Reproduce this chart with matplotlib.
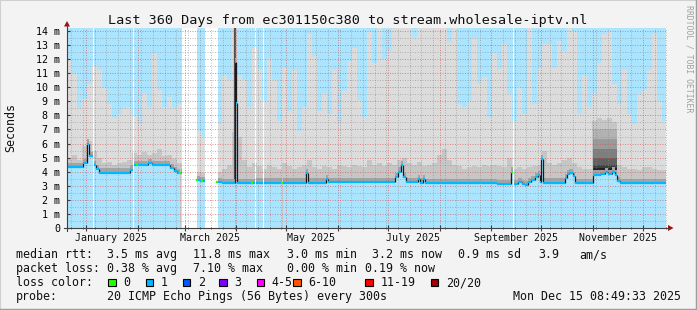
import datetime as dt
import numpy as np
import matplotlib
matplotlib.use('Agg')
import matplotlib.pyplot as plt
import matplotlib.dates as mdates
from matplotlib.ticker import MultipleLocator, FuncFormatter, NullFormatter
from matplotlib.patches import Rectangle, Polygon
from matplotlib.lines import Line2D

plt.rcParams['font.family'] = ['DejaVu Sans Mono']

# time range: 360 days up to the probe timestamp
end_time = dt.datetime(2025, 12, 15, 8, 49, 33)
start_time = end_time - dt.timedelta(days=360)
data_end_day = 359.4

# median rtt (ms), step segments starting at day offset, nan = no data
median_day = [0.0, 9.6, 12.0, 12.9, 15.6, 16.2, 17.4, 19.2, 37.8, 39.6,
              40.2, 48.6, 51.0, 61.8, 64.2, 66.0, 67.5, 68.1, 69.0, 78.0,
              79.8, 82.8, 90.6, 93.0, 100.5, 101.4, 102.0, 112.8, 113.4, 117.6,
              118.2, 128.7, 129.3, 143.4, 144.6, 155.4, 156.6, 196.8, 198.6, 200.4,
              201.6, 203.4, 210.6, 211.8, 213.6, 214.8, 235.8, 258.0, 266.4, 267.3,
              267.9, 270.6, 273.0, 274.8, 276.6, 278.4, 280.8, 282.6, 283.5, 284.1,
              285.3, 298.8, 300.0, 301.2, 303.6, 304.8, 315.3, 319.8, 322.8, 324.6,
              327.0, 328.8, 330.0, 331.8]
median_ms = [4.30, 4.60, 6.00, 5.10, np.nan, 4.48, 4.20, 3.93, 4.15, np.nan,
             4.45, 4.62, 4.45, 4.25, 4.05, 3.90, np.nan, 3.90, np.nan, 3.40,
             3.35, np.nan, 3.28, 3.18, 11.8, 8.9, 3.18, np.nan, 3.22, np.nan,
             3.22, np.nan, 3.22, 3.90, 3.22, 3.50, 3.25, 3.60, 4.00, 4.45,
             3.60, 3.25, 3.50, 3.22, 3.50, 3.20, 3.18, 3.10, 4.00, np.nan,
             3.12, 3.28, 3.12, 3.05, 3.25, 3.40, 3.60, 3.75, 3.30, 4.88,
             3.22, 3.55, 3.85, 3.90, 3.70, 3.18, 3.80, 3.85, 3.95, 3.85,
             4.00, 3.80, 3.35, 3.18]

# points with zero loss (green)
loss0_day = [41.8, 67.8, 77.8, 80.8, 89.8, 111.0, 128.8, 266.8]
loss0_ms = [4.45, 3.90, 3.40, 3.35, 3.28, 3.18, 3.22, 4.00]

# smoke, 3 day bins: top of light smoke and of medium smoke (ms)
smoke_top_ms = [12.0, 11.0, 8.5, 9.2, 10.2, 11.5, 11.2, 10.0, 8.8, 7.8,
                8.1, 8.5, 8.6, 8.0, 7.4, 9.6, 8.6, 12.4, 9.8, 8.6,
                9.3, 8.6, 8.8, 0, 0, 0, 6.9, 6.5, 0, 0,
                7.4, 10.9, 10.5, 14.2, 10.9, 10.5, 8.6, 12.8, 11.3, 9.0,
                12.1, 10.5, 7.6, 11.4, 8.3, 11.2, 6.9, 8.6, 13.8, 12.2,
                8.3, 9.6, 8.1, 11.2, 7.4, 9.7, 11.9, 12.8, 9.1, 7.9,
                14.0, 11.7, 14.2, 12.0, 12.6, 14.2, 14.2, 14.2, 14.2, 13.6,
                14.2, 14.2, 14.2, 14.2, 14.2, 14.2, 13.2, 14.2, 8.8, 8.6,
                9.0, 13.5, 10.2, 10.7, 7.9, 12.4, 11.3, 13.1, 9.5, 7.6,
                10.0, 8.1, 14.2, 8.8, 11.4, 13.1, 13.1, 11.4, 13.3, 12.6,
                14.2, 14.0, 8.1, 10.9, 8.6, 9.6, 11.7, 13.8, 14.0, 10.2,
                8.8, 11.2, 8.1, 7.4, 9.5, 9.8, 11.2, 13.8, 9.0, 7.6]
smoke_mid_ms = [5.0, 5.2, 4.8, 5.8, 6.2, 5.5, 5.0, 4.6, 4.7, 4.5,
                4.6, 4.7, 4.8, 5.3, 5.2, 5.4, 5.2, 5.3, 5.6, 5.1,
                5.2, 4.9, 4.6, 0, 0, 0, 4.0, 3.9, 0, 0,
                4.0, 4.2, 4.5, 6.8, 6.5, 4.8, 4.3, 4.6, 4.4, 4.2,
                4.5, 4.3, 4.2, 4.6, 4.4, 4.2, 4.3, 4.5, 4.8, 4.3,
                4.2, 4.4, 4.3, 4.2, 4.5, 4.4, 4.3, 4.5, 4.4, 4.3,
                4.8, 4.5, 4.6, 4.4, 4.6, 4.5, 4.8, 5.0, 4.6, 4.5,
                4.7, 4.4, 4.5, 4.6, 5.2, 5.6, 4.8, 4.5, 4.4, 4.2,
                4.3, 4.4, 4.3, 4.5, 4.4, 4.5, 4.4, 4.3, 5.0, 4.2,
                4.3, 4.2, 4.3, 4.4, 4.5, 5.5, 4.6, 4.5, 4.6, 4.8,
                5.0, 4.6, 4.3, 4.2, 4.2, 7.6, 7.8, 7.7, 7.8, 7.5,
                4.5, 4.3, 4.2, 4.2, 4.1, 4.3, 4.3, 4.2, 4.1, 4.1]

# dense dark smoke in november, tops of darker layers
dark_days = [315.3, 330.0]
dark_top_ms = [7.0, 6.3, 5.6, 5.0, 4.5, 4.25]

# dark spike column in march
spike_day = [100.9]
spike_top_ms = [14.2]

W, H = 697, 310
BLUE = '#AAE4FE'
LOSS_COLORS = ['#26FF00', '#00B8FF', '#0059FF', '#7E00FF',
               '#FF00FF', '#FF5500', '#FF0000', '#A10000']
LOSS_LABELS = ['0', '1', '2', '3', '4-5', '6-10', '11-19', '20/20']


def fx(px):
    return px / W


def fy(py):
    return 1 - py / H


fig = plt.figure(figsize=(W / 100, H / 100), dpi=100, facecolor='#F3F3F3')
ax = fig.add_axes([fx(67), fy(228), 600 / W, 200 / H])
ax.set_facecolor('white')
x0 = mdates.date2num(start_time)
ax.set_xlim(x0, x0 + 360)
ax.set_ylim(0, 14.21)
for s in ax.spines.values():
    s.set_visible(False)

# background where data exists
ax.axvspan(x0, x0 + data_end_day, color=BLUE, lw=0, zorder=0.5)

# smoke
n = len(smoke_top_ms)
bx = 3.0 * np.arange(n)
bw = np.minimum(3.0, data_end_day - bx)
ax.bar(x0 + bx, smoke_top_ms, width=bw, align='edge', color='#DCDCDC', lw=0, zorder=1, antialiased=False)
ax.bar(x0 + bx, smoke_mid_ms, width=bw, align='edge', color='#C6C6C6', lw=0, zorder=1.1, antialiased=False)
dark_cols = ['#B2B2B2', '#9A9A9A', '#7E7E7E', '#606060', '#404040', '#222222']
for top, col in zip(dark_top_ms, dark_cols):
    ax.fill_between(x0 + np.array(dark_days), 0, top, color=col, lw=0, zorder=1.2)
ax.vlines(x0 + np.array(spike_day), 3.2, spike_top_ms, color='#505050', lw=1.6, zorder=1.3)

# median as explicit steps (nan breaks at gaps)
md = np.array(median_day + [data_end_day])
sx, sy = [], []
for i, v in enumerate(median_ms):
    sx += [md[i], md[i + 1]]
    sy += [v, v]
sx = x0 + np.array(sx)
sy = np.array(sy)
ax.fill_between(sx, sy, sy + 0.3, color='#A4A4A4', lw=0, zorder=1.4)
ax.fill_between(sx, 0, sy, color=BLUE, lw=0, zorder=1.5)

# gaps without data
for i, v in enumerate(median_ms):
    if np.isnan(v):
        ax.axvspan(x0 + md[i], x0 + md[i + 1], color='white', lw=0, zorder=2)

# median line, loss 1 colour, black steps
for i in range(len(median_ms)):
    v = median_ms[i]
    if np.isnan(v):
        continue
    ax.hlines(v, x0 + md[i], x0 + md[i + 1], color=LOSS_COLORS[1], lw=1.6, zorder=3)
    if i + 1 < len(median_ms) and not np.isnan(median_ms[i + 1]):
        ax.vlines(x0 + md[i + 1], v, median_ms[i + 1], color='#1A1A1A', lw=0.9, zorder=2.9)
ax.hlines(loss0_ms, x0 + np.array(loss0_day) - 0.5, x0 + np.array(loss0_day) + 0.5,
          color=LOSS_COLORS[0], lw=1.6, zorder=3.1)

# grid
ax.xaxis.set_major_locator(mdates.MonthLocator())
ax.xaxis.set_minor_locator(mdates.WeekdayLocator(byweekday=mdates.MO))
ax.xaxis.set_major_formatter(NullFormatter())
ax.yaxis.set_major_locator(MultipleLocator(1))
ax.yaxis.set_minor_locator(MultipleLocator(0.5))
ax.yaxis.set_major_formatter(FuncFormatter(lambda v, p: '0' if v == 0 else '%d m' % v))
ax.set_axisbelow(False)
ax.grid(which='minor', color='#8C8C8C', ls=(0, (1, 1.5)), lw=0.72, alpha=0.55)
ax.grid(which='major', color='#D05050', ls=(0, (1, 1.5)), lw=0.72, alpha=0.6)
ax.tick_params(axis='y', which='major', direction='in', length=2, pad=5, labelsize=7.2, color='#404040')
ax.tick_params(axis='y', which='minor', length=0)
ax.tick_params(axis='x', which='major', direction='inout', length=4, color='#404040')
ax.tick_params(axis='x', which='minor', direction='inout', length=2, color='#404040')

# month labels, every second month
for m in [1, 3, 5, 7, 9, 11]:
    d = dt.datetime(2025, m, 1)
    ax.text(mdates.date2num(d) + 15, -0.0635, d.strftime('%B %Y'), transform=ax.get_xaxis_transform(),
            ha='center', va='baseline', fontsize=7.2, color='#111111')

# axes with arrows
ARROW = '#A01010'
fig.add_artist(Line2D([fx(67), fx(67)], [fy(231), fy(24)], color='#404040', lw=0.8))
fig.add_artist(Line2D([fx(64), fx(669)], [fy(228), fy(228)], color='#404040', lw=0.8))
fig.add_artist(Polygon([(fx(64), fy(26.5)), (fx(70), fy(26.5)), (fx(67), fy(21))], closed=True,
                       transform=fig.transFigure, color=ARROW, lw=0))
fig.add_artist(Polygon([(fx(668), fy(225)), (fx(668), fy(231)), (fx(673.5), fy(228))], closed=True,
                       transform=fig.transFigure, color=ARROW, lw=0))

# titles
fig.text(fx(347.5), fy(24), 'Last 360 Days from ec301150c380 to stream.wholesale-iptv.nl',
         ha='center', va='baseline', fontsize=9.7, color='#111111')
fig.text(fx(11), fy(128), 'Seconds', rotation=90, ha='center', va='center', fontsize=8.4, color='#111111')
fig.text(fx(689), fy(5), 'RRDTOOL / TOBI OETIKER', rotation=270, ha='center', va='top',
         fontsize=5.85, color='#A0A0A0')

# legend
LS = 8.4
rows = [
    (258.3, [(16, 'median rtt:'), (107.3, '3.5 ms avg'), (193.3, '11.8 ms max'), (286.7, '3.0 ms min'),
             (372.3, '3.2 ms now'), (458.3, '0.9 ms sd'), (538.3, '3.9'), (579.3, 'am/s')]),
    (272.3, [(16, 'packet loss:'), (107.3, '0.38 % avg'), (193.3, '7.10 % max'), (286.7, '0.00 % min'),
             (365, '0.19 % now')]),
    (286.0, [(16, 'loss color:')]),
    (300.0, [(16, 'probe:'), (107.3, '20 ICMP Echo Pings (56 Bytes) every 300s'),
             (512.7, 'Mon Dec 15 08:49:33 2025')]),
]
for y, items in rows:
    for x, s in items:
        fig.text(fx(x), fy(y), s, ha='left', va='baseline', fontsize=LS, color='#111111')

box_x = [108.3, 145.7, 182.7, 219.3, 256.7, 293.3, 365.3, 430.7]
for bxp, col, lab in zip(box_x, LOSS_COLORS, LOSS_LABELS):
    fig.add_artist(Rectangle((fx(bxp), fy(286)), 7.5 / W, 7.5 / H, transform=fig.transFigure,
                             facecolor=col, edgecolor='black', lw=0.8))
    fig.text(fx(bxp + 15), fy(286), lab, ha='left', va='baseline', fontsize=LS, color='#111111')

# frame shading
fig.add_artist(Line2D([0, 0, 1], [0, 1, 1], color='#CFCFCF', lw=1.5, transform=fig.transFigure))
fig.add_artist(Line2D([0, 1, 1], [0, 0, 1], color='#9E9E9E', lw=2.5, transform=fig.transFigure))

fig.savefig('out.png', dpi=100, facecolor=fig.get_facecolor())
